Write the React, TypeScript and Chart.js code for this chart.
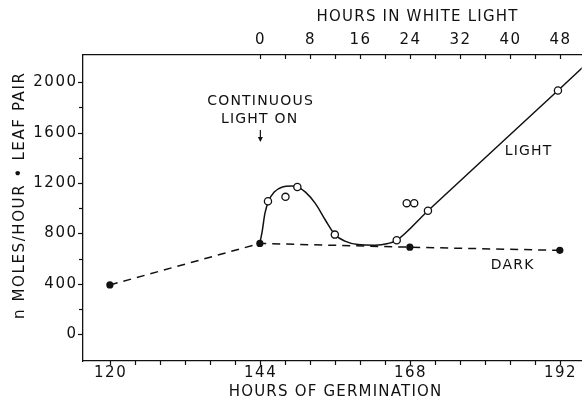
import React, { useEffect, useRef } from "react";
import { Chart, registerables } from "chart.js";

Chart.register(...registerables);

// ---- data ----
const darkHours = [120, 144, 168, 192];
const darkValues = [390, 720, 690, 665];

const lightHours = [145.3, 148.1, 150.0, 156.0, 165.9, 167.5, 168.7, 170.9, 191.7];
const lightValues = [1055, 1090, 1168, 790, 745, 1040, 1040, 980, 1935];

// fitted curve drawn through/near the light points
const curveHours = [144, 144.4, 144.8, 145.4, 146.3, 147.6, 149.0, 150.0, 151.3, 152.9, 154.5, 156.0, 157.6, 159.7, 162.4, 164.5, 165.9, 170.9, 191.7, 196];
const curveValues = [720, 824, 957, 1057, 1128, 1168, 1176, 1168, 1128, 1036, 904, 791, 738, 711, 706, 719, 745, 980, 1935, 2135];

const bottomTickLabels = [120, 144, 168, 192];
const topTickLabels = [0, 8, 16, 24, 32, 40, 48];
const yTickLabels = [0, 400, 800, 1200, 1600, 2000];

const LIGHT_OFFSET = 144; // hours of germination when the light goes on
const X_MIN = 115.7;
const X_MAX = 195.5;
const Y_MIN = -214;
const Y_MAX = 2217;

const FONT = '"DejaVu Sans", sans-serif';
const INK = "#111";

function txt(
  ctx: CanvasRenderingContext2D,
  s: string,
  x: number,
  y: number,
  size: number,
  spacing: number,
  align: CanvasTextAlign = "center"
) {
  ctx.save();
  ctx.font = `${size}px ${FONT}`;
  (ctx as any).letterSpacing = `${spacing}px`;
  ctx.fillStyle = INK;
  ctx.textBaseline = "middle";
  const w = ctx.measureText(s).width;
  ctx.textAlign = "left";
  let sx = x;
  if (align === "center") sx = x - (w - spacing) / 2;
  else if (align === "right") sx = x - (w - spacing);
  ctx.fillText(s, sx, y);
  ctx.restore();
}

const decorPlugin = {
  id: "decor",
  afterDraw(chart: any) {
    const ctx: CanvasRenderingContext2D = chart.ctx;
    const xs = chart.scales.x;
    const xt = chart.scales.xTop;
    const ys = chart.scales.y;
    const area = chart.chartArea;
    ctx.save();
    ctx.strokeStyle = INK;
    ctx.lineWidth = 1.2;
    // left ticks
    for (let v = 0; v <= 2000; v += 200) {
      const py = Math.round(ys.getPixelForValue(v)) + 0.5;
      const len = v % 400 === 0 ? 5 : 4;
      ctx.beginPath();
      ctx.moveTo(area.left - len, py);
      ctx.lineTo(area.left, py);
      ctx.stroke();
    }
    // bottom ticks
    for (let v = 120; v <= 192; v += 4) {
      const px = Math.round(xs.getPixelForValue(v)) + 0.5;
      ctx.beginPath();
      ctx.moveTo(px, area.bottom);
      ctx.lineTo(px, area.bottom + 4);
      ctx.stroke();
    }
    // top ticks (pointing into the plot)
    for (let v = 0; v <= 48; v += 4) {
      const px = Math.round(xt.getPixelForValue(v)) + 0.5;
      ctx.beginPath();
      ctx.moveTo(px, area.top);
      ctx.lineTo(px, area.top + 4);
      ctx.stroke();
    }
    ctx.restore();

    // tick labels
    yTickLabels.forEach((v) => {
      txt(ctx, String(v), area.left - 7, ys.getPixelForValue(v), 15, 1.5, "right");
    });
    bottomTickLabels.forEach((v) => {
      txt(ctx, String(v), xs.getPixelForValue(v), area.bottom + 12, 15, 1.5);
    });
    topTickLabels.forEach((v) => {
      txt(ctx, String(v), xt.getPixelForValue(v), area.top - 15, 15, 1.5);
    });

    // axis titles
    txt(ctx, "HOURS OF GERMINATION", 335, 392, 15, 1.2);
    txt(ctx, "HOURS IN WHITE LIGHT", 417, 17, 15, 1.2);
    ctx.save();
    ctx.translate(20, 196);
    ctx.rotate(-Math.PI / 2);
    txt(ctx, "n MOLES/HOUR • LEAF PAIR", 0, 0, 15, 1.6);
    ctx.restore();

    // annotations
    txt(ctx, "CONTINUOUS", 260, 101, 14, 1.2);
    txt(ctx, "LIGHT ON", 259, 119, 14, 1.2);
    txt(ctx, "LIGHT", 528, 151, 14, 1.2);
    txt(ctx, "DARK", 512, 265, 14, 1.2);

    // arrow
    const ax = xs.getPixelForValue(LIGHT_OFFSET) + 0.5;
    ctx.save();
    ctx.strokeStyle = INK;
    ctx.fillStyle = INK;
    ctx.lineWidth = 1.2;
    ctx.beginPath();
    ctx.moveTo(ax, 130);
    ctx.lineTo(ax, 138);
    ctx.stroke();
    ctx.beginPath();
    ctx.moveTo(ax - 2.5, 137);
    ctx.lineTo(ax + 2.5, 137);
    ctx.lineTo(ax, 142);
    ctx.closePath();
    ctx.fill();
    ctx.restore();
  },
};

export default function App() {
  const ref = useRef<HTMLCanvasElement>(null);

  useEffect(() => {
    if (!ref.current) return;
    const chart = new Chart(ref.current, {
      type: "line",
      data: {
        datasets: [
          {
            label: "Light points",
            data: lightHours.map((h, i) => ({ x: h, y: lightValues[i] })),
            showLine: false,
            pointRadius: 3.6,
            pointBackgroundColor: "#fff",
            pointBorderColor: INK,
            pointBorderWidth: 1.3,
            order: 0,
          },
          {
            label: "Dark",
            data: darkHours.map((h, i) => ({ x: h, y: darkValues[i] })),
            borderColor: INK,
            borderWidth: 1.5,
            borderDash: [8, 6],
            pointRadius: 3.6,
            pointBackgroundColor: INK,
            pointBorderColor: INK,
            pointBorderWidth: 0,
            tension: 0,
            order: 1,
          },
          {
            label: "Light curve",
            data: curveHours.map((h, i) => ({ x: h, y: curveValues[i] })),
            borderColor: INK,
            borderWidth: 1.5,
            pointRadius: 0,
            cubicInterpolationMode: "monotone",
            order: 2,
          },
        ],
      },
      options: {
        animation: false,
        responsive: false,
        layout: { padding: 0 },
        plugins: {
          legend: { display: false },
          tooltip: { enabled: false },
        },
        scales: {
          x: {
            type: "linear",
            position: "bottom",
            min: X_MIN,
            max: X_MAX,
            grid: { display: false },
            border: { display: true, color: INK, width: 1.3 },
            ticks: { display: false, stepSize: 4 },
            afterFit: (s: any) => {
              s.height = 42;
            },
          },
          xTop: {
            type: "linear",
            position: "top",
            min: X_MIN - LIGHT_OFFSET,
            max: X_MAX - LIGHT_OFFSET,
            grid: { display: false },
            border: { display: true, color: INK, width: 1.3 },
            ticks: { display: false, stepSize: 4 },
            afterFit: (s: any) => {
              s.height = 55;
            },
          },
          y: {
            type: "linear",
            position: "left",
            min: Y_MIN,
            max: Y_MAX,
            grid: { display: false },
            border: { display: true, color: INK, width: 1.3 },
            ticks: { display: false, stepSize: 200 },
            afterFit: (s: any) => {
              s.width = 83;
            },
          },
        },
      },
      plugins: [decorPlugin],
    });
    return () => chart.destroy();
  }, []);

  return (
    <div style={{ position: "fixed", left: 0, top: 0, width: 587, height: 403, background: "#fff" }}>
      <canvas ref={ref} width={587} height={403} style={{ display: "block" }} />
    </div>
  );
}
